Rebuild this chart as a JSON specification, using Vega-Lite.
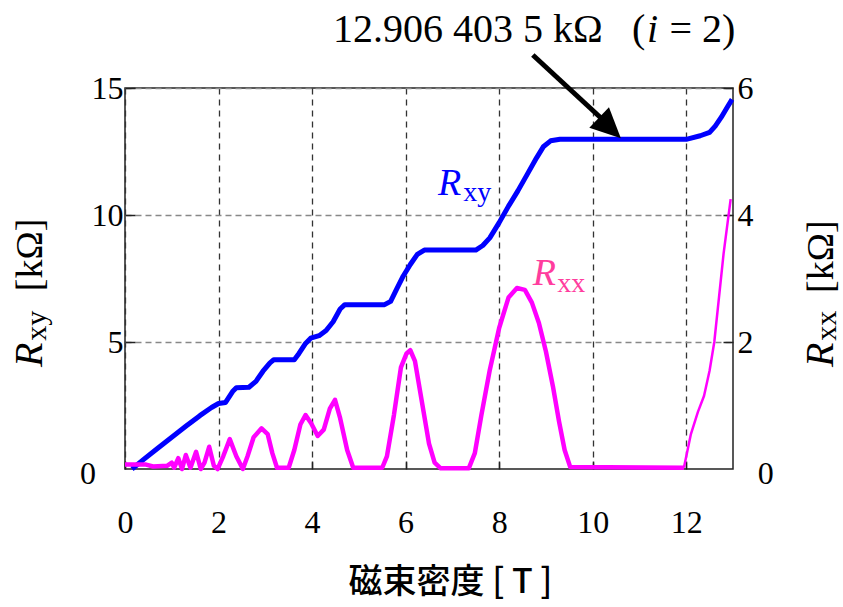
{
  "$schema": "https://vega.github.io/schema/vega-lite/v6.json",
  "width": 608,
  "height": 381,
  "autosize": "none",
  "padding": {"left": 125, "top": 88, "right": 110, "bottom": 138},
  "background": "white",
  "config": {
    "view": {"stroke": "#222", "strokeWidth": 1.5},
    "axis": {"labelFont": "Liberation Serif", "labelFontSize": 32, "labelColor": "black", "domain": false, "tickColor": "#222", "tickWidth": 1.5, "labelFlush": false}
  },
  "datasets": {
    "rxy": [
      {"B": 0.15, "R": 0}, {"B": 0.4, "R": 0.38}, {"B": 0.7, "R": 0.82}, {"B": 1.0, "R": 1.25},
      {"B": 1.3, "R": 1.68}, {"B": 1.6, "R": 2.1}, {"B": 1.85, "R": 2.42}, {"B": 2.0, "R": 2.58},
      {"B": 2.15, "R": 2.62}, {"B": 2.3, "R": 3.05}, {"B": 2.38, "R": 3.2}, {"B": 2.65, "R": 3.22},
      {"B": 2.8, "R": 3.45}, {"B": 2.95, "R": 3.85}, {"B": 3.1, "R": 4.18}, {"B": 3.18, "R": 4.3},
      {"B": 3.62, "R": 4.3}, {"B": 3.72, "R": 4.55}, {"B": 3.85, "R": 4.92}, {"B": 3.97, "R": 5.15},
      {"B": 4.15, "R": 5.25}, {"B": 4.3, "R": 5.45}, {"B": 4.45, "R": 5.8}, {"B": 4.6, "R": 6.3},
      {"B": 4.7, "R": 6.47}, {"B": 5.55, "R": 6.47}, {"B": 5.68, "R": 6.6}, {"B": 5.8, "R": 7.05},
      {"B": 5.95, "R": 7.6}, {"B": 6.1, "R": 8.05}, {"B": 6.25, "R": 8.45}, {"B": 6.4, "R": 8.62},
      {"B": 7.5, "R": 8.62}, {"B": 7.65, "R": 8.8}, {"B": 7.8, "R": 9.1}, {"B": 8.0, "R": 9.7},
      {"B": 8.2, "R": 10.35}, {"B": 8.4, "R": 10.95}, {"B": 8.6, "R": 11.6}, {"B": 8.8, "R": 12.25},
      {"B": 8.95, "R": 12.7}, {"B": 9.1, "R": 12.92}, {"B": 9.3, "R": 12.98}, {"B": 12.0, "R": 12.98},
      {"B": 12.3, "R": 13.12}, {"B": 12.5, "R": 13.25}, {"B": 12.62, "R": 13.5}, {"B": 12.75, "R": 13.85},
      {"B": 12.88, "R": 14.25}, {"B": 12.98, "R": 14.55}
    ],
    "rxx": [
      {"B": 0, "R": 0.07}, {"B": 0.45, "R": 0.07}, {"B": 0.6, "R": 0.04}, {"B": 0.9, "R": 0.05},
      {"B": 1.0, "R": 0.1}, {"B": 1.05, "R": 0.02}, {"B": 1.14, "R": 0.17}, {"B": 1.22, "R": 0.0},
      {"B": 1.3, "R": 0.22}, {"B": 1.4, "R": 0.02}, {"B": 1.52, "R": 0.27}, {"B": 1.62, "R": 0.0},
      {"B": 1.7, "R": 0.1}, {"B": 1.8, "R": 0.35}, {"B": 1.9, "R": 0.05}, {"B": 1.98, "R": 0.0},
      {"B": 2.1, "R": 0.2}, {"B": 2.24, "R": 0.47}, {"B": 2.38, "R": 0.2}, {"B": 2.52, "R": 0.0},
      {"B": 2.62, "R": 0.2}, {"B": 2.75, "R": 0.5}, {"B": 2.92, "R": 0.64}, {"B": 3.05, "R": 0.55},
      {"B": 3.15, "R": 0.25}, {"B": 3.25, "R": 0.02}, {"B": 3.5, "R": 0.02}, {"B": 3.62, "R": 0.3},
      {"B": 3.75, "R": 0.7}, {"B": 3.86, "R": 0.85}, {"B": 3.98, "R": 0.72}, {"B": 4.12, "R": 0.52},
      {"B": 4.25, "R": 0.62}, {"B": 4.38, "R": 0.95}, {"B": 4.49, "R": 1.09}, {"B": 4.6, "R": 0.8},
      {"B": 4.75, "R": 0.3}, {"B": 4.88, "R": 0.02}, {"B": 5.5, "R": 0.02}, {"B": 5.6, "R": 0.2},
      {"B": 5.75, "R": 0.85}, {"B": 5.9, "R": 1.6}, {"B": 6.02, "R": 1.82}, {"B": 6.1, "R": 1.87},
      {"B": 6.2, "R": 1.7}, {"B": 6.35, "R": 1.05}, {"B": 6.5, "R": 0.4}, {"B": 6.62, "R": 0.1},
      {"B": 6.75, "R": 0.01}, {"B": 7.35, "R": 0.01}, {"B": 7.48, "R": 0.25}, {"B": 7.62, "R": 0.85},
      {"B": 7.8, "R": 1.56}, {"B": 8.0, "R": 2.22}, {"B": 8.2, "R": 2.7}, {"B": 8.38, "R": 2.85},
      {"B": 8.55, "R": 2.82}, {"B": 8.7, "R": 2.62}, {"B": 8.85, "R": 2.3}, {"B": 9.0, "R": 1.85},
      {"B": 9.15, "R": 1.3}, {"B": 9.28, "R": 0.75}, {"B": 9.4, "R": 0.3}, {"B": 9.52, "R": 0.03},
      {"B": 11.95, "R": 0.02}, {"B": 12.1, "R": 0.55}, {"B": 12.25, "R": 0.9}, {"B": 12.38, "R": 1.15},
      {"B": 12.5, "R": 1.55}, {"B": 12.6, "R": 2.0}, {"B": 12.7, "R": 2.7}, {"B": 12.8, "R": 3.4},
      {"B": 12.95, "R": 4.25}
    ]
  },
  "layer": [
    {
      "layer": [
        {
          "data": {"name": "rxy"},
          "mark": {"type": "line", "color": "#0000ff", "strokeWidth": 5, "strokeJoin": "round"},
          "encoding": {
            "x": {"field": "B", "type": "quantitative", "scale": {"domain": [0, 13], "nice": false},
              "axis": {"values": [0, 2, 4, 6, 8, 10, 12], "format": "d", "labelFont": "Liberation Serif", "labelPadding": 46, "tickSize": -8, "grid": true, "gridDash": [6, 5], "gridColor": "#333", "gridWidth": 1.3,
                "title": "磁束密度 [ T ]", "titleFont": "Noto Sans CJK JP", "titleFontSize": 34, "titleFontWeight": 500, "titleColor": "black",
                "titleX": 325, "titleY": 113, "titleAlign": "center", "titleBaseline": "middle"}},
            "y": {"field": "R", "type": "quantitative", "scale": {"domain": [0, 15], "nice": false},
              "axis": {"values": [5, 10, 15], "format": "d", "labelFont": "Liberation Serif", "orient": "left", "labelPadding": 12, "tickSize": -10, "grid": true, "gridDash": [6, 4], "gridColor": "#888", "gridWidth": 1.3, "title": null}}
          }
        },
        {
          "data": {"values": [{"x": -0.79, "y": -0.2, "t": "0"}, {"x": 13.7, "y": -0.2, "t": "0"}]},
          "mark": {"type": "text", "font": "Liberation Serif", "fontSize": 32, "align": "center", "baseline": "middle", "color": "black"},
          "encoding": {"x": {"field": "x", "type": "quantitative"}, "y": {"field": "y", "type": "quantitative", "title": null}, "text": {"field": "t"}}
        },
        {
          "data": {"values": [{"x": 8.72, "y": 16.3, "x2": 10.2, "y2": 13.78}]},
          "mark": {"type": "rule", "color": "black", "strokeWidth": 5},
          "encoding": {"x": {"field": "x", "type": "quantitative"}, "y": {"field": "y", "type": "quantitative", "title": null}, "x2": {"field": "x2"}, "y2": {"field": "y2"}}
        },
        {
          "data": {"values": [{"x": 10.37, "y": 13.43}]},
          "mark": {"type": "point", "shape": "M0,-1L0.95,1L-0.95,1Z", "size": 900, "angle": 133.6, "filled": true, "color": "black", "opacity": 1},
          "encoding": {"x": {"field": "x", "type": "quantitative"}, "y": {"field": "y", "type": "quantitative", "title": null}}
        },
        {
          "data": {"values": [{"x": 4.45, "y": 16.81, "t": "12.906 403 5 kΩ"}, {"x": 10.84, "y": 16.81, "t": "("}, {"x": 11.64, "y": 16.81, "t": "= 2)"}]},
          "mark": {"type": "text", "font": "Liberation Serif", "fontSize": 40, "align": "left", "baseline": "alphabetic", "color": "black"},
          "encoding": {"x": {"field": "x", "type": "quantitative"}, "y": {"field": "y", "type": "quantitative", "title": null}, "text": {"field": "t"}}
        },
        {
          "data": {"values": [{"x": 11.16, "y": 16.81, "t": "i"}]},
          "mark": {"type": "text", "font": "Liberation Serif", "fontSize": 40, "fontStyle": "italic", "align": "left", "baseline": "alphabetic", "color": "black"},
          "encoding": {"x": {"field": "x", "type": "quantitative"}, "y": {"field": "y", "type": "quantitative", "title": null}, "text": {"field": "t"}}
        },
        {
          "data": {"values": [{"x": 6.69, "y": 10.79, "t": "R"}]},
          "mark": {"type": "text", "font": "Liberation Serif", "fontSize": 38, "fontStyle": "italic", "align": "left", "baseline": "alphabetic", "color": "#0000ff"},
          "encoding": {"x": {"field": "x", "type": "quantitative"}, "y": {"field": "y", "type": "quantitative", "title": null}, "text": {"field": "t"}}
        },
        {
          "data": {"values": [{"x": 7.23, "y": 10.55, "t": "xy"}]},
          "mark": {"type": "text", "font": "Liberation Serif", "fontSize": 28, "align": "left", "baseline": "alphabetic", "color": "#0000ff"},
          "encoding": {"x": {"field": "x", "type": "quantitative"}, "y": {"field": "y", "type": "quantitative", "title": null}, "text": {"field": "t"}}
        },
        {
          "data": {"values": [{"x": 8.72, "y": 7.24, "t": "R"}]},
          "mark": {"type": "text", "font": "Liberation Serif", "fontSize": 38, "fontStyle": "italic", "align": "left", "baseline": "alphabetic", "color": "#ff3d9e"},
          "encoding": {"x": {"field": "x", "type": "quantitative"}, "y": {"field": "y", "type": "quantitative", "title": null}, "text": {"field": "t"}}
        },
        {
          "data": {"values": [{"x": 9.24, "y": 6.97, "t": "xx"}]},
          "mark": {"type": "text", "font": "Liberation Serif", "fontSize": 28, "align": "left", "baseline": "alphabetic", "color": "#ff3d9e"},
          "encoding": {"x": {"field": "x", "type": "quantitative"}, "y": {"field": "y", "type": "quantitative", "title": null}, "text": {"field": "t"}}
        },
        {
          "data": {"values": [{"x": -1.775, "y": 4.02, "t": "R"}, {"x": 15.14, "y": 4.02, "t": "R"}]},
          "mark": {"type": "text", "font": "Liberation Serif", "fontSize": 40, "fontStyle": "italic", "align": "left", "baseline": "alphabetic", "angle": 270, "color": "black"},
          "encoding": {"x": {"field": "x", "type": "quantitative"}, "y": {"field": "y", "type": "quantitative", "title": null}, "text": {"field": "t"}}
        },
        {
          "data": {"values": [{"x": -1.69, "y": 5.05, "t": "xy"}, {"x": 15.2, "y": 5.05, "t": "xx"}]},
          "mark": {"type": "text", "font": "Liberation Serif", "fontSize": 30, "align": "left", "baseline": "alphabetic", "angle": 270, "color": "black"},
          "encoding": {"x": {"field": "x", "type": "quantitative"}, "y": {"field": "y", "type": "quantitative", "title": null}, "text": {"field": "t"}}
        },
        {
          "data": {"values": [{"x": -1.775, "y": 7.0, "t": "[kΩ]"}, {"x": 15.14, "y": 6.93, "t": "[kΩ]"}]},
          "mark": {"type": "text", "font": "Liberation Serif", "fontSize": 38, "align": "left", "baseline": "alphabetic", "angle": 270, "color": "black"},
          "encoding": {"x": {"field": "x", "type": "quantitative"}, "y": {"field": "y", "type": "quantitative", "title": null}, "text": {"field": "t"}}
        }
      ]
    },
    {
      "layer": [
        {
          "data": {"name": "rxx"},
          "transform": [{"filter": "datum.B <= 11.95"}],
          "mark": {"type": "line", "color": "#ff00ff", "strokeWidth": 4.5, "strokeJoin": "round"},
          "encoding": {
            "x": {"field": "B", "type": "quantitative"},
            "y": {"field": "R", "type": "quantitative", "scale": {"domain": [0, 6], "nice": false},
              "axis": {"values": [2, 4, 6], "format": "d", "labelFont": "Liberation Serif", "orient": "right", "labelPadding": 14, "tickSize": -10, "grid": false, "title": null}}
          }
        },
        {
          "data": {"name": "rxx"},
          "transform": [{"filter": "datum.B >= 11.95"}],
          "mark": {"type": "line", "color": "#ff00ff", "strokeWidth": 2.5, "strokeJoin": "round"},
          "encoding": {
            "x": {"field": "B", "type": "quantitative"},
            "y": {"field": "R", "type": "quantitative"}
          }
        }
      ]
    }
  ],
  "resolve": {"scale": {"y": "independent"}}
}
